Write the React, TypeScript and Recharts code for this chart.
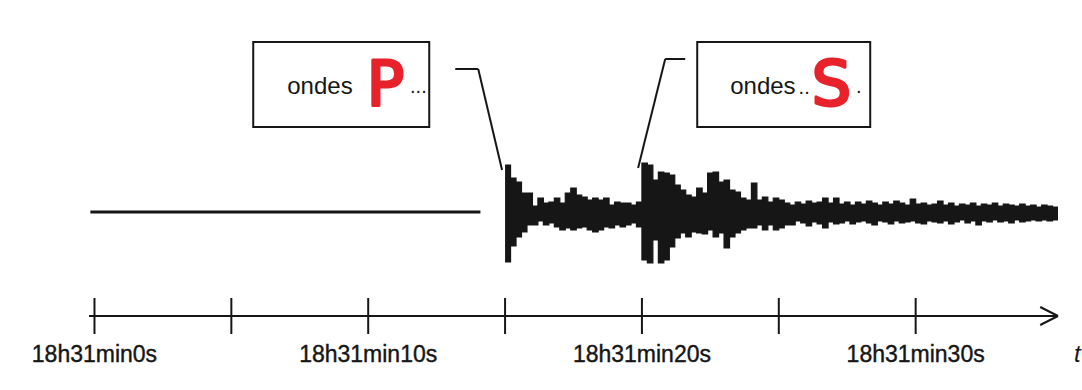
import {
  ComposedChart,
  Area,
  Line,
  XAxis,
  YAxis,
  ReferenceArea,
  ReferenceLine,
} from 'recharts';

// seismogram envelope, one sample every 0.2 s from 15.0 s (18h31min15s)
const SIGNAL_START = 15;
const SAMPLE_STEP = 0.2;

const upperEnvelope = [
  47, 34, 30, 19, 19, 6, 14, 9, 10, 14,
  9, 19, 24, 17, 15, 12, 14, 12, 14, 7,
  10, 9, 9, 7, 10, 49, 47, 32, 40, 39,
  37, 27, 22, 17, 15, 24, 19, 39, 40, 30,
  32, 22, 20, 14, 12, 29, 12, 15, 10, 14,
  12, 9, 7, 10, 8, 11, 9, 10, 14, 9,
  14, 8, 10, 7, 10, 8, 11, 9, 7, 10,
  8, 11, 9, 7, 13, 8, 9, 7, 8, 11,
  7, 9, 6, 8, 7, 9, 6, 8, 7, 9,
  6, 8, 7, 6, 8, 6, 7, 5, 7, 6,
  5, 5,
];

const lowerEnvelope = [
  -50, -34, -25, -20, -13, -13, -9, -13, -11, -15,
  -18, -16, -18, -16, -15, -18, -20, -18, -15, -16,
  -13, -15, -13, -11, -15, -48, -51, -28, -51, -48,
  -35, -26, -21, -25, -20, -21, -22, -18, -25, -21,
  -36, -25, -21, -18, -16, -16, -13, -18, -13, -18,
  -16, -13, -13, -9, -11, -14, -10, -12, -16, -10,
  -12, -11, -9, -12, -10, -9, -11, -13, -9, -10,
  -12, -9, -11, -10, -9, -11, -12, -9, -10, -11,
  -9, -12, -10, -8, -11, -9, -13, -9, -10, -8,
  -10, -9, -11, -8, -10, -9, -8, -9, -8, -9,
  -8, -8,
];

// quiet trace before the P arrival
const quietTimes = [-0.15, 14.1];
const quietLevel = [0, 0];

const tickValues = [0, 5, 10, 15, 20, 25, 30];
const tickLabels: Record<number, string> = {
  0: '18h31min0s',
  10: '18h31min10s',
  20: '18h31min20s',
  30: '18h31min30s',
};

// annotation boxes and their leader lines (time in s, amplitude)
const pBox = { x1: 5.8, x2: 12.23, y1: 85, y2: 170 };
const sBox = { x1: 22.02, x2: 28.34, y1: 85, y2: 170 };
const pLeader = [
  { x: 13.18, y: 143 },
  { x: 14.02, y: 143 },
  { x: 14.89, y: 42 },
];
const sLeader = [
  { x: 21.58, y: 153 },
  { x: 20.85, y: 153 },
  { x: 19.86, y: 44 },
];

const INK = '#161616';
const MARKER = '#e8222b';
const FONT = '"Liberation Sans", Arial, sans-serif';

const signalRows = upperEnvelope.map((hi, i) => ({
  t: Math.round((SIGNAL_START + i * SAMPLE_STEP) * 10) / 10,
  range: [lowerEnvelope[i], hi],
}));
const quietRows = quietTimes.map((t, i) => ({ t, quiet: quietLevel[i] }));
const chartData = [...quietRows, ...signalRows];

function TimeTick(props: any) {
  const { x, y, payload } = props;
  const label = tickLabels[payload.value];
  return (
    <g>
      <line x1={x} x2={x} y1={y - 18} y2={y + 18} stroke={INK} strokeWidth={2} />
      {label && (
        <text
          x={x}
          y={y + 46}
          textAnchor="middle"
          fontSize={23}
          fontFamily={FONT}
          fill={INK}
          stroke={INK}
          strokeWidth={0.4}
        >
          {label}
        </text>
      )}
    </g>
  );
}

// "ondes ......" filled in by hand with a red letter, as one text
function BoxText(props: any) {
  const { viewBox, letter, before, after, textDx, beforeDx, letterDx, afterDx } = props;
  const { x, y } = viewBox;
  return (
    <text x={x + textDx} y={y + 52} fontSize={24} fontFamily={FONT} fill={INK}>
      <tspan>ondes</tspan>
      {before && (
        <tspan dx={beforeDx} fontSize={20}>
          {before}
        </tspan>
      )}
      <tspan
        dx={letterDx}
        dy={11}
        fontSize={62}
        fontFamily='"DejaVu Sans", sans-serif'
        fill={MARKER}
        stroke={MARKER}
        strokeWidth={3}
        strokeLinejoin="round"
      >
        {letter}
      </tspan>
      <tspan dx={afterDx} dy={-12} fontSize={20}>
        {after}
      </tspan>
    </text>
  );
}

function AxisName(props: any) {
  const { viewBox } = props;
  return (
    <text
      x={viewBox.x + viewBox.width + 16}
      y={viewBox.y + 46}
      fontSize={24}
      fontStyle="italic"
      fontFamily={FONT}
      fill={INK}
    >
      t
    </text>
  );
}

export default function App() {
  return (
    <div style={{ position: 'absolute', left: 0, top: 0, background: '#fff' }}>
      <ComposedChart
        width={1082}
        height={390}
        data={chartData}
        margin={{ top: 0, right: 24, bottom: 34, left: 89 }}
      >
        <XAxis
          dataKey="t"
          type="number"
          domain={[-0.2, 35.2]}
          ticks={tickValues}
          tick={<TimeTick />}
          tickSize={0}
          tickMargin={0}
          tickLine={false}
          axisLine={{ stroke: INK, strokeWidth: 2 }}
          height={40}
          interval={0}
          allowDataOverflow
          label={<AxisName />}
        />
        <YAxis type="number" domain={[-104, 212]} hide allowDataOverflow />

        <Line
          dataKey="quiet"
          stroke={INK}
          strokeWidth={3}
          dot={false}
          isAnimationActive={false}
        />
        <Area
          dataKey="range"
          type="stepAfter"
          stroke={INK}
          strokeWidth={1.2}
          fill={INK}
          fillOpacity={1}
          isAnimationActive={false}
        />

        {/* arrow head on the time axis */}
        <ReferenceLine
          segment={[{ x: 34.55, y: -95 }, { x: 35.2, y: -104 }]}
          stroke={INK}
          strokeWidth={2}
          ifOverflow="visible"
        />
        <ReferenceLine
          segment={[{ x: 34.55, y: -113 }, { x: 35.2, y: -104 }]}
          stroke={INK}
          strokeWidth={2}
          ifOverflow="visible"
        />

        <ReferenceArea
          {...pBox}
          fill="#fff"
          fillOpacity={1}
          stroke={INK}
          strokeWidth={2}
          ifOverflow="visible"
          label={<BoxText letter="P" after="..." textDx={34} letterDx={14} afterDx={6} />}
        />
        <ReferenceArea
          {...sBox}
          fill="#fff"
          fillOpacity={1}
          stroke={INK}
          strokeWidth={2}
          ifOverflow="visible"
          label={
            <BoxText letter="S" before=".." after="." textDx={33} beforeDx={3} letterDx={2} afterDx={5} />
          }
        />

        <ReferenceLine segment={[pLeader[0], pLeader[1]]} stroke={INK} strokeWidth={2} ifOverflow="visible" />
        <ReferenceLine segment={[pLeader[1], pLeader[2]]} stroke={INK} strokeWidth={2} ifOverflow="visible" />
        <ReferenceLine segment={[sLeader[0], sLeader[1]]} stroke={INK} strokeWidth={2} ifOverflow="visible" />
        <ReferenceLine segment={[sLeader[1], sLeader[2]]} stroke={INK} strokeWidth={2} ifOverflow="visible" />
      </ComposedChart>
    </div>
  );
}
